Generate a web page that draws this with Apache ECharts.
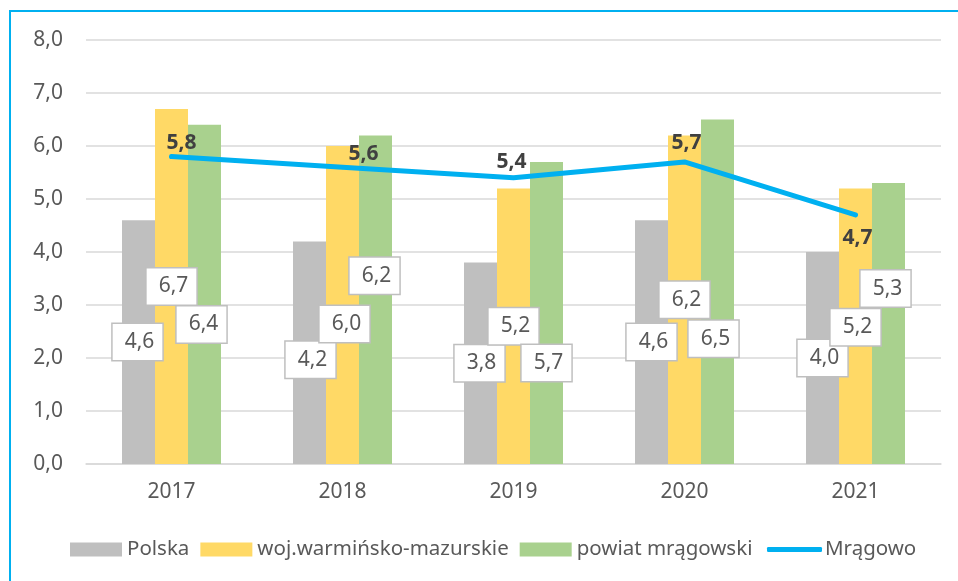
<!DOCTYPE html>
<html>
<head>
<meta charset="utf-8">
<title>Mrągowo</title>
<script src="https://cdn.jsdelivr.net/npm/echarts@6/dist/echarts.min.js"></script>
<style>
  html, body { margin: 0; padding: 0; background: #fff; }
  #chart { width: 958px; height: 581px; }
</style>
</head>
<body>
<div id="chart"></div>
<script>
'use strict';
const years = ['2017', '2018', '2019', '2020', '2021'];
const polska = [4.6, 4.2, 3.8, 4.6, 4.0];
const wojewodztwo = [6.7, 6.0, 5.2, 6.2, 5.2];
const powiat = [6.4, 6.2, 5.7, 6.5, 5.3];
const mragowo = [5.8, 5.6, 5.4, 5.7, 4.7];

// przesunięcia etykiet (tak jak ręcznie ułożone w Excelu)
const shiftPolska = [[-1, 0], [1, 7], [-1, 0], [0, 0], [0, 0]];
const shiftWoj = [[0, 0], [2, 19], [0, 0], [0, 0], [0, 1]];
const shiftPowiat = [[-3, 30], [-1, -24], [0, 50], [-4, 47], [-3, -35]];
const shiftLine = [[10, -14], [21, -13], [-2, -16], [2, -19], [2, 23]];

const FONT = 'Noto Sans';
const fmt = v => v.toFixed(1).replace('.', ',');

function barData(values, shifts) {
  return values.map((v, i) => ({
    value: v,
    label: { offset: shifts[i] }
  }));
}

const boxLabel = {
  show: true,
  position: 'inside',
  formatter: p => fmt(p.value),
  fontFamily: FONT,
  fontSize: 21,
  lineHeight: 22,
  color: '#595959',
  backgroundColor: '#ffffff',
  borderColor: '#bfbfbf',
  borderWidth: 1.5,
  padding: [7, 8, 7, 12]
};

let chart = echarts.init(document.getElementById('chart'));
chart.setOption({
  animation: false,
  graphic: [{
    type: 'rect',
    shape: { x: 10, y: 11, width: 1000, height: 700 },
    style: { fill: 'none', stroke: '#00b0f0', lineWidth: 2 },
    silent: true
  }],
  grid: { left: 86, right: 17, top: 40, bottom: 117 },
  legend: [{
    left: 70,
    top: 539,
    padding: 0,
    itemWidth: 52,
    itemHeight: 14,
    itemGap: 11,
    icon: 'rect',
    data: ['Polska', 'woj.warmińsko-mazurskie', 'powiat mrągowski'],
    textStyle: { fontFamily: FONT, fontSize: 20.5, color: '#595959' }
  }, {
    left: 767,
    top: 539,
    padding: 0,
    itemWidth: 55,
    itemHeight: 5,
    icon: 'roundRect',
    data: ['Mrągowo'],
    textStyle: { fontFamily: FONT, fontSize: 20.5, color: '#595959', padding: [0, 0, 0, -2] }
  }],
  xAxis: {
    type: 'category',
    data: years,
    axisLine: { lineStyle: { color: '#d9d9d9', width: 1.5 } },
    axisTick: { show: false },
    axisLabel: { margin: 18, fontFamily: FONT, fontSize: 21, color: '#595959' }
  },
  yAxis: {
    type: 'value',
    min: 0,
    max: 8,
    interval: 1,
    axisLine: { show: false },
    axisTick: { show: false },
    splitLine: { lineStyle: { color: '#d9d9d9', width: 1.5 } },
    axisLabel: { margin: 23, fontFamily: FONT, fontSize: 21, color: '#595959', formatter: fmt }
  },
  series: [{
    name: 'Polska',
    type: 'bar',
    barWidth: 33,
    barGap: '0%',
    itemStyle: { color: '#bfbfbf' },
    label: boxLabel,
    data: barData(polska, shiftPolska)
  }, {
    name: 'woj.warmińsko-mazurskie',
    type: 'bar',
    barWidth: 33,
    barGap: '0%',
    itemStyle: { color: '#ffd966' },
    label: boxLabel,
    data: barData(wojewodztwo, shiftWoj)
  }, {
    name: 'powiat mrągowski',
    type: 'bar',
    barWidth: 33,
    barGap: '0%',
    itemStyle: { color: '#a9d18e' },
    label: boxLabel,
    data: barData(powiat, shiftPowiat)
  }, {
    name: 'Mrągowo',
    type: 'line',
    symbol: 'circle',
    symbolSize: 4,
    z: 5,
    itemStyle: { color: '#00b0f0' },
    lineStyle: { color: '#00b0f0', width: 5, cap: 'round', join: 'round' },
    label: {
      show: true,
      position: 'inside',
      formatter: p => fmt(p.value),
      fontFamily: FONT,
      fontSize: 21,
      fontWeight: 'bold',
      color: '#404040'
    },
    data: barData(mragowo, shiftLine)
  }]
});
</script>
</body>
</html>
